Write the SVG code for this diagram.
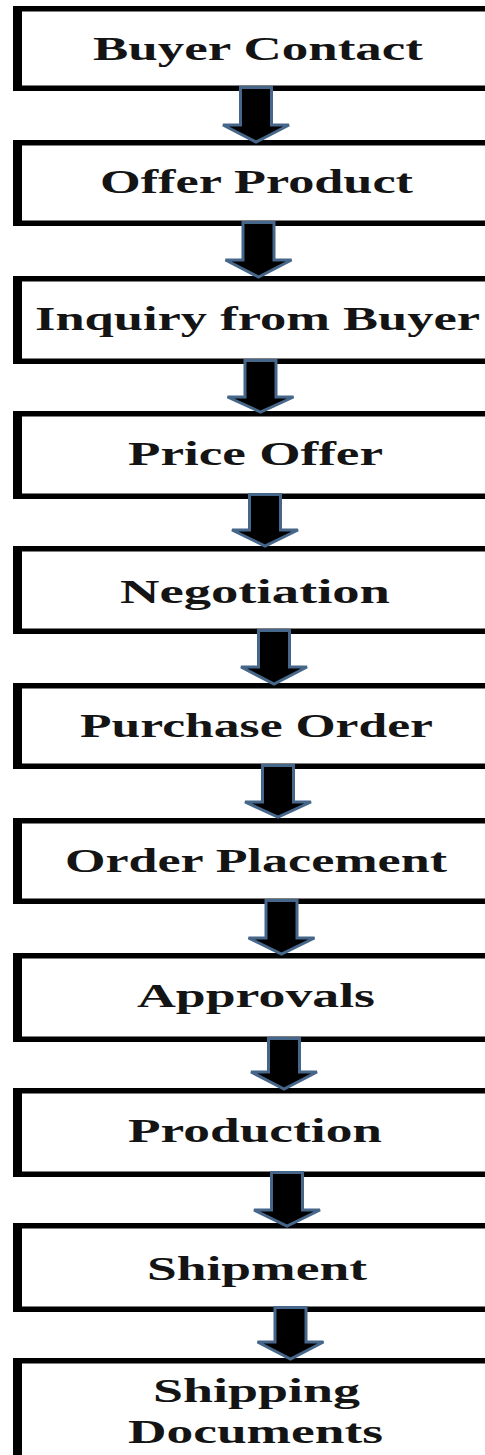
<svg xmlns="http://www.w3.org/2000/svg" width="485" height="1455" viewBox="0 0 485 1455">
<style>
.frame{fill:#000}
.lbl{font-family:"Liberation Serif","Times New Roman",serif;font-weight:bold;font-size:33px;fill:#141414;text-anchor:middle}
.arr{fill:#000;stroke:#46678a;stroke-width:3;stroke-linejoin:miter}
</style>
<rect width="485" height="1455" fill="#fff"/>
<g id="n1"><path class="frame" d="M13 6H490V11.5H22V85.5H490V91H13Z"/><text class="lbl" x="258" y="60" textLength="330" lengthAdjust="spacingAndGlyphs">Buyer Contact</text></g>
<g id="n2"><path class="frame" d="M13 140H490V145.5H22V220.5H490V226H13Z"/><text class="lbl" x="256.5" y="193" textLength="313" lengthAdjust="spacingAndGlyphs">Offer Product</text></g>
<g id="n3"><path class="frame" d="M13 276H490V281.5H22V358.5H490V364H13Z"/><text class="lbl" x="257.5" y="330" textLength="445" lengthAdjust="spacingAndGlyphs">Inquiry from Buyer</text></g>
<g id="n4"><path class="frame" d="M13 411H490V416.5H22V493.5H490V499H13Z"/><text class="lbl" x="255.5" y="465" textLength="255" lengthAdjust="spacingAndGlyphs">Price Offer</text></g>
<g id="n5"><path class="frame" d="M13 546H490V551.5H22V628.5H490V634H13Z"/><text class="lbl" x="255" y="603" textLength="270" lengthAdjust="spacingAndGlyphs">Negotiation</text></g>
<g id="n6"><path class="frame" d="M13 683H490V688.5H22V763.5H490V769H13Z"/><text class="lbl" x="256.5" y="737" textLength="353" lengthAdjust="spacingAndGlyphs">Purchase Order</text></g>
<g id="n7"><path class="frame" d="M13 818H490V823.5H22V898.5H490V904H13Z"/><text class="lbl" x="256" y="872" textLength="382" lengthAdjust="spacingAndGlyphs">Order Placement</text></g>
<g id="n8"><path class="frame" d="M13 953H490V958.5H22V1036.5H490V1042H13Z"/><text class="lbl" x="256" y="1007" textLength="238" lengthAdjust="spacingAndGlyphs">Approvals</text></g>
<g id="n9"><path class="frame" d="M13 1088H490V1093.5H22V1171.5H490V1177H13Z"/><text class="lbl" x="255" y="1142" textLength="254" lengthAdjust="spacingAndGlyphs">Production</text></g>
<g id="n10"><path class="frame" d="M13 1223H490V1228.5H22V1306.5H490V1312H13Z"/><text class="lbl" x="257" y="1280" textLength="220" lengthAdjust="spacingAndGlyphs">Shipment</text></g>
<g id="n11"><path class="frame" d="M13 1358H490V1363.5H22V1470H13Z"/><text class="lbl" x="256.5" y="1402" textLength="207" lengthAdjust="spacingAndGlyphs">Shipping</text><text class="lbl" x="255.5" y="1443" textLength="255" lengthAdjust="spacingAndGlyphs">Documents</text></g>
<g id="connectors">
<path class="arr" d="M240.5 87.5H271.5V125H289L256 142L223 125H240.5Z"/>
<path class="arr" d="M243 222.5H274V260H291.5L258.5 277L225.5 260H243Z"/>
<path class="arr" d="M245 360.5H276V397H293.5L260.5 412L227.5 397H245Z"/>
<path class="arr" d="M249.5 494.5H280.5V530H298L265 546L232 530H249.5Z"/>
<path class="arr" d="M258.5 630.5H289.5V667H307L274 684L241 667H258.5Z"/>
<path class="arr" d="M262.5 765.5H293.5V802H311L278 817L245 802H262.5Z"/>
<path class="arr" d="M266 900.5H297V938H314.5L281.5 954L248.5 938H266Z"/>
<path class="arr" d="M268.5 1038.5H299.5V1072H317L284 1089L251 1072H268.5Z"/>
<path class="arr" d="M271.5 1172.5H302.5V1210H320L287 1226L254 1210H271.5Z"/>
<path class="arr" d="M275 1307.5H306V1342H323.5L290.5 1359L257.5 1342H275Z"/>
</g>
</svg>
